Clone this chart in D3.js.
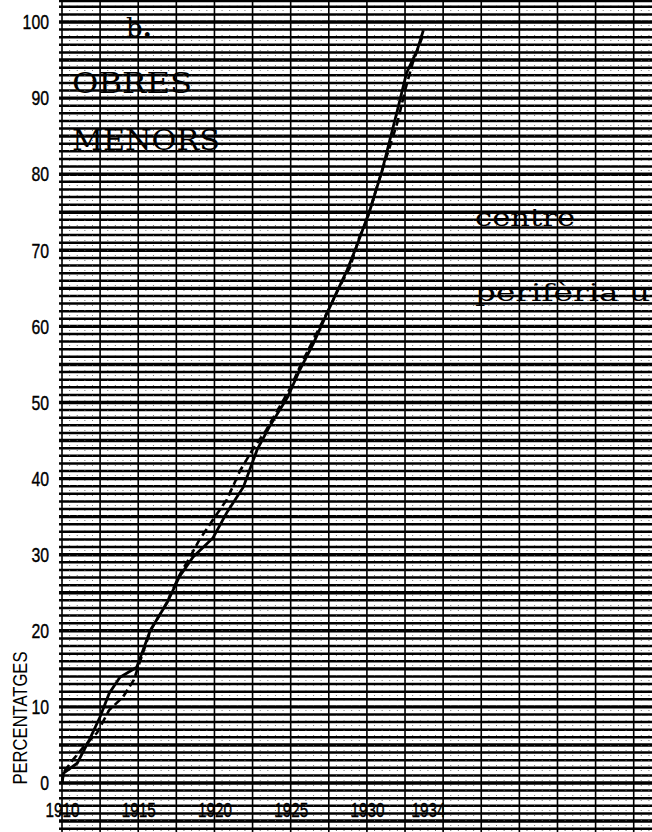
<!DOCTYPE html>
<meta charset="utf-8">
<style>
  body { margin: 0; background: #fff; }
  svg { display: block; }
</style>
<script src="https://d3js.org/d3.v7.min.js"></script>
<div id="my_dataviz"></div>
<script>

    // size of the page / graph paper
    var width = 652,
        height = 832;

    // tick labels
    var yTicks = [0, 10, 20, 30, 40, 50, 60, 70, 80, 90, 100];
    var xTicks = [1910, 1915, 1920, 1925, 1930, 1934];

    // solid line : centre (years, cumulative %)
    var centreYears  = [1910, 1910.1, 1911, 1911.8, 1912.5, 1913.1, 1913.8, 1914.9, 1915.8, 1916.9, 1917.7, 1918.6, 1919.9, 1920.8, 1921.9, 1922.8, 1923.6, 1924.8, 1925.6, 1926.5, 1927.4, 1928.0, 1928.7, 1929.3, 1930.2, 1931.0, 1932.0, 1932.6, 1933.3, 1933.7];
    var centreValues = [0,    1.3,    2.6,  5.7,    8.7,    11.8,   13.9,   15.2,   20.1,   23.7,   27.1,   29.7,   32.2,   35.5,   38.9,   43.8,   46.8,   50.7,   54.3,   57.8,   61.8,   64.4,   67.4,   70.4,   75.3,   80.5,   88.4,   93.3,   96.3,   98.9];

    // dashed line : periferia urbana
    var periYears  = [1910, 1910.1, 1910.7, 1911.4, 1912.3, 1913.1, 1914.0, 1914.7, 1915.8, 1916.9, 1917.7, 1918.4, 1919.0, 1919.9, 1920.8, 1921.7, 1922.5, 1923.4, 1925.0, 1925.6, 1926.9, 1927.7, 1928.1, 1928.9, 1929.5, 1930.0, 1930.7, 1931.5, 1932.0, 1932.5, 1933.0, 1933.7];
    var periValues = [0,    1.4,    3.0,    4.7,    6.6,    9.6,    11.3,   13.5,   20.0,   23.8,   27.3,   29.7,   31.9,   34.6,   37.2,   41.1,   43.8,   46.4,   52.0,   54.7,   59.9,   63.1,   64.8,   67.8,   71.7,   74.0,   78.6,   83.6,   86.8,   91.0,   94.6,   98.4];

    var centre = centreYears.map(function(d, i) { return {x: d, y: centreValues[i]}; });
    var peri = periYears.map(function(d, i) { return {x: d, y: periValues[i]}; });

    var svg = d3.select("#my_dataviz")
      .append("svg")
        .attr("width", width)
        .attr("height", height);

    // scales (the paper runs past the last year on the right)
    var xScale = d3.scaleLinear()
        .domain([1910, 1948.7])
        .range([62, 652]);
    var yScale = d3.scaleLinear()
        .domain([0, 100])
        .range([783, 22]);

    // graph paper : horizontal rules every unit
    var grid = svg.append("g");
    grid.selectAll(".hline")
      .data(d3.range(-6, 103))
      .enter().append("line")
        .attr("class", "hline")
        .attr("x1", 59)
        .attr("x2", width)
        .attr("y1", function(d) { return yScale(d); })
        .attr("y2", function(d) { return yScale(d); })
        .attr("stroke", "#000")
        .attr("stroke-width", function(d) { return d % 5 == 0 ? 3.4 : 2.5; });

    // faint dotted verticals
    grid.selectAll(".vminor")
      .data(d3.range(1910, 1948.7, 0.5))
      .enter().append("line")
        .attr("class", "vminor")
        .attr("x1", function(d) { return xScale(d); })
        .attr("x2", function(d) { return xScale(d); })
        .attr("y1", 0)
        .attr("y2", height)
        .attr("stroke", "#666")
        .attr("stroke-width", 0.9)
        .attr("stroke-dasharray", "1,4");

    // stronger verticals every 2.5 years
    grid.selectAll(".vmajor")
      .data(d3.range(1910, 1948.7, 2.5))
      .enter().append("line")
        .attr("class", "vmajor")
        .attr("x1", function(d) { return xScale(d); })
        .attr("x2", function(d) { return xScale(d); })
        .attr("y1", 0)
        .attr("y2", height)
        .attr("stroke", "#000")
        .attr("stroke-width", 1.6);

    // top edge of the sheet
    grid.append("line")
        .attr("x1", 59).attr("x2", width)
        .attr("y1", 1).attr("y2", 1)
        .attr("stroke", "#000")
        .attr("stroke-width", 2.5);

    var sans = "'Liberation Sans', Arial, sans-serif";

    // Y axis labels
    var yAxis = svg.append("g")
        .attr("transform", "translate(60,0)")
        .call(d3.axisLeft(yScale).tickValues(yTicks).tickSize(0).tickPadding(11));
    yAxis.select(".domain").remove();
    yAxis.selectAll("text")
        .attr("fill", "#000")
        .attr("stroke", "#000")
        .attr("stroke-width", 0.4)
        .style("font-family", sans)
        .style("font-size", "21px")
        .attr("textLength", function(d) { return String(d).length * 8.8; })
        .attr("lengthAdjust", "spacingAndGlyphs");

    // X axis labels, sitting on the paper below the zero line
    var xAxis = svg.append("g")
        .attr("transform", "translate(0,800)")
        .call(d3.axisBottom(xScale).tickValues(xTicks).tickFormat(d3.format("d")).tickSize(0).tickPadding(2));
    xAxis.select(".domain").remove();
    xAxis.selectAll("text")
        .attr("fill", "#000")
        .attr("stroke", "#000")
        .attr("stroke-width", 0.4)
        .style("font-family", sans)
        .style("font-size", "21px")
        .attr("textLength", 34)
        .attr("lengthAdjust", "spacingAndGlyphs");

    // axis title
    svg.append("text")
        .attr("transform", "translate(27,718) rotate(-90)")
        .attr("text-anchor", "middle")
        .attr("textLength", 133)
        .attr("lengthAdjust", "spacingAndGlyphs")
        .style("font-family", sans)
        .style("font-size", "21px")
        .text("PERCENTATGES");

    // the two curves
    var lineFun = d3.line()
        .x(function(d) { return xScale(d.x); })
        .y(function(d) { return yScale(d.y); });

    svg.append("path")
        .attr("d", lineFun(peri))
        .attr("fill", "none")
        .attr("stroke", "#000")
        .attr("stroke-width", 2.6)
        .attr("stroke-dasharray", "8,4");

    svg.append("path")
        .attr("d", lineFun(centre))
        .attr("fill", "none")
        .attr("stroke", "#000")
        .attr("stroke-width", 2.8);

    // typewritten labels
    var typewriter = "'DejaVu Serif', 'Liberation Serif', serif";

    var b = svg.append("text")
        .attr("x", 126)
        .attr("y", 37)
        .style("font-family", typewriter)
        .style("font-size", "26px");
    b.append("tspan").text("b");
    b.append("tspan").attr("font-weight", "bold").text(".");

    svg.append("text")
        .attr("x", 72).attr("y", 93)
        .attr("textLength", 120)
        .attr("lengthAdjust", "spacingAndGlyphs")
        .style("font-family", typewriter)
        .style("font-size", "28px")
        .text("OBRES");

    svg.append("text")
        .attr("x", 72).attr("y", 150)
        .attr("textLength", 148)
        .attr("lengthAdjust", "spacingAndGlyphs")
        .style("font-family", typewriter)
        .style("font-size", "28px")
        .text("MENORS");

    svg.append("text")
        .attr("x", 475).attr("y", 226)
        .attr("textLength", 100)
        .attr("lengthAdjust", "spacingAndGlyphs")
        .style("font-family", typewriter)
        .style("font-size", "24px")
        .text("centre");

    svg.append("text")
        .attr("x", 475).attr("y", 301)
        .attr("textLength", 175)
        .attr("lengthAdjust", "spacingAndGlyphs")
        .style("font-family", typewriter)
        .style("font-size", "24px")
        .text("perifèria u");

</script>
